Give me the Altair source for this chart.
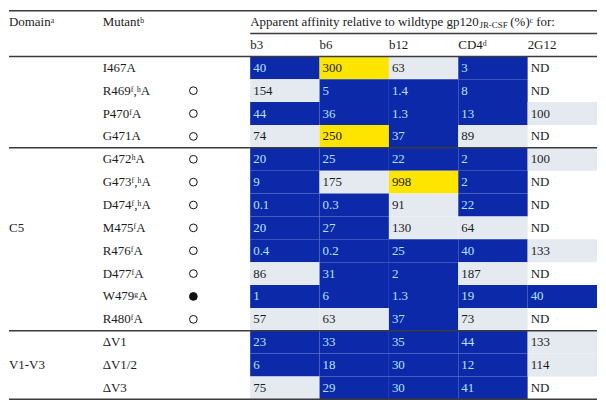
import altair as alt
import pandas as pd

mutants = ["I467A", "R469ᶠ,ʰA", "P470ᶠA", "G471A", "G472ʰA", "G473ᶠ,ʰA",
           "D474ᶠ,ʰA", "M475ᶠA", "R476ᶠA", "D477ᶠA", "W479ᵍA", "R480ᶠA",
           "ΔV1", "ΔV1/2", "ΔV3"]
markers = ["", "open", "open", "open", "open", "open", "open", "open",
           "open", "open", "filled", "open", "", "", ""]
b3 = ["40", "154", "44", "74", "20", "9", "0.1", "20", "0.4", "86", "1", "57", "23", "6", "75"]
b6 = ["300", "5", "36", "250", "25", "175", "0.3", "27", "0.2", "31", "6", "63", "33", "18", "29"]
b12 = ["63", "1.4", "1.3", "37", "22", "998", "91", "130", "25", "2", "1.3", "37", "35", "30", "30"]
cd4 = ["3", "8", "13", "89", "2", "2", "22", "64", "40", "187", "19", "73", "44", "12", "41"]
g2g12 = ["ND", "ND", "100", "ND", "100", "ND", "ND", "ND", "133", "ND", "40", "ND", "133", "114", "ND"]
value_columns = ["b3", "b6", "b12", "CD4ᵈ", "2G12"]
domain_names = ["C5", "V1-V3"]
domain_label_rows = ["M475ᶠA", "ΔV1/2"]
header_title = "Apparent affinity relative to wildtype gp120"
header_sub = "JR-CSF"
header_tail = "(%)ᶜ for:"

FONT = "Liberation Serif"
FS = 13
BLUE = "#0b29a8"
GRAY = "#e4eaf0"
YELLOW = "#fde500"
LIGHT_TXT = "#b6e3ff"
DARK_TXT = "#1c1c1c"
LINE = "#3c3c3c"

# ---- tables built from the lists ----
cells = []
for i, m in enumerate(mutants):
    for j, vals in enumerate([b3, b6, b12, cd4, g2g12]):
        t = vals[i]
        cells.append({"row": i + 2, "col": j + 3, "txt": t,
                      "num": float(t) if t != "ND" else None})
cells = pd.DataFrame(cells)
cells["row2"] = cells["row"] + 1
cells["col2"] = cells["col"] + 1
cells["rowm"] = cells["row"] + 0.5

mut_df = pd.DataFrame({"txt": mutants, "marker": markers,
                       "row": [i + 2.5 for i in range(len(mutants))],
                       "col": 1, "mcol": 2})
dom_df = pd.DataFrame({"txt": domain_names,
                       "row": [mutants.index(m) + 2.5 for m in domain_label_rows],
                       "col": 0})
head_df = pd.DataFrame({"txt": ["Domainᵃ", "Mutantᵇ", header_title] + value_columns,
                        "row": [0.5, 0.5, 0.5] + [1.5] * 5,
                        "col": [0, 1, 3, 3, 4, 5, 6, 7],
                        "dx": [0, 0, 3, 3, 3, 3, 3, 3]})
rules_df = pd.DataFrame({"c1": [0, 3, 0, 0, 0, 0],
                         "c2": [8, 8, 8, 8, 8, 8],
                         "row": [0, 1, 2, 6, 14, 17]})

xs = alt.Scale(domain=[0, 1, 2, 3, 4, 5, 6, 7, 8],
               range=[0, 94, 185, 242, 311.6, 381.2, 450.8, 520.4, 590])
ys = alt.Scale(domain=[0, 17], range=[0, 390])

def X(f):
    return alt.X(f, type="quantitative", scale=xs, axis=None)

def Y(f):
    return alt.Y(f, type="quantitative", scale=ys, axis=None)

rects = alt.Chart(cells).transform_filter("datum.num != null").mark_rect(strokeWidth=0).encode(
    x=X("col"), x2="col2", y=Y("row"), y2="row2",
    color=alt.Color("num:Q", legend=None,
                    scale=alt.Scale(type="threshold", domain=[50, 200],
                                    range=[BLUE, GRAY, YELLOW])))

vals_txt = alt.Chart(cells).mark_text(align="left", baseline="middle", dx=3,
                                      font=FONT, fontSize=FS).encode(
    x=X("col"), y=Y("rowm"), text="txt",
    color=alt.condition("datum.num != null && datum.num < 50",
                        alt.value(LIGHT_TXT), alt.value(DARK_TXT)))

mut_txt = alt.Chart(mut_df).mark_text(align="left", baseline="middle",
                                      font=FONT, fontSize=FS, color=DARK_TXT).encode(
    x=X("col"), y=Y("row"), text="txt")

pts = alt.Chart(mut_df).transform_filter("datum.marker != ''").mark_point(
    shape="circle", size=60, strokeWidth=1, stroke="#111", opacity=1).encode(
    x=X("mcol"), y=Y("row"),
    fill=alt.Fill("marker:N", legend=None,
                  scale=alt.Scale(domain=["open", "filled"], range=["white", "#111"])))

dom_txt = alt.Chart(dom_df).mark_text(align="left", baseline="middle",
                                      font=FONT, fontSize=FS, color=DARK_TXT).encode(
    x=X("col"), y=Y("row"), text="txt")

head_txt = alt.Chart(head_df).mark_text(align="left", baseline="middle",
                                        font=FONT, fontSize=FS, color=DARK_TXT).encode(
    x=X("col"), y=Y("row"), text="txt", xOffset=alt.XOffset("dx:Q", scale=None))

sub_txt = alt.Chart(pd.DataFrame({"txt": [header_sub], "col": [3], "row": [0.5]})).mark_text(
    align="left", baseline="middle", font=FONT, fontSize=9, color=DARK_TXT, dx=230, dy=3).encode(
    x=X("col"), y=Y("row"), text="txt")

tail_txt = alt.Chart(pd.DataFrame({"txt": [header_tail], "col": [3], "row": [0.5]})).mark_text(
    align="left", baseline="middle", font=FONT, fontSize=FS, color=DARK_TXT, dx=261).encode(
    x=X("col"), y=Y("row"), text="txt")

rules = alt.Chart(rules_df).mark_rule(stroke=LINE, strokeWidth=1.5).encode(
    x=X("c1"), x2="c2", y=Y("row"))

chart = alt.layer(rects, vals_txt, mut_txt, pts, dom_txt, head_txt, sub_txt,
                  tail_txt, rules).properties(
    width=590, height=390,
    padding={"left": 0, "right": 0, "top": 1, "bottom": 1}
).configure_view(stroke=None)

chart.save("out.html", embed_options={"renderer": "svg", "actions": False})
